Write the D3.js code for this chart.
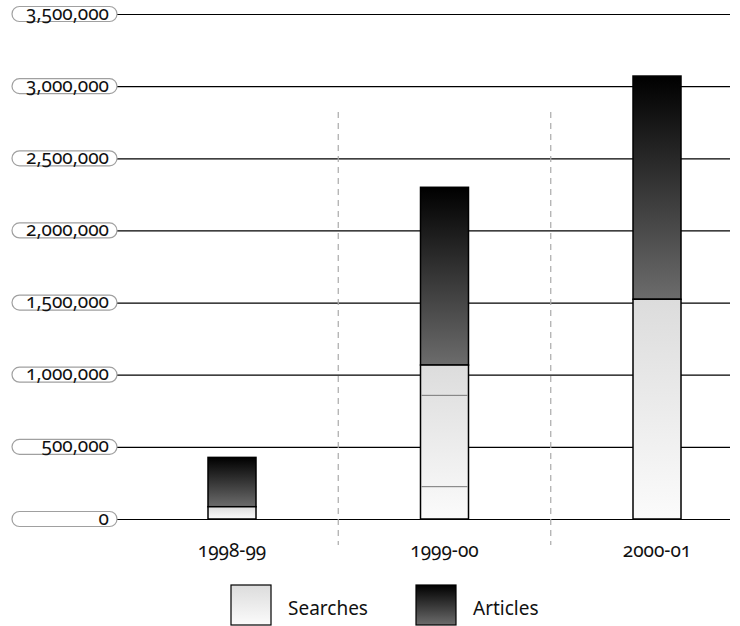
<!DOCTYPE html>
<html><head><meta charset="utf-8">
<script src="https://cdn.jsdelivr.net/npm/d3@7"></script>
<style>
body{margin:0;background:#fff;}
text{font-family:"Noto Sans",sans-serif;}
.num{font-variant-numeric:oldstyle-nums;font-feature-settings:"onum" 1;}
</style></head><body>
<svg id="c" width="740" height="626"></svg>
<script>
const categories = ["1998-99", "1999-00", "2000-01"];
const searches = [85000, 1067000, 1523000];
const articles = [342000, 1232000, 1547000];
const searchDividers = [[], [857000, 224000], []];
const yTicks = [0, 500000, 1000000, 1500000, 2000000, 2500000, 3000000, 3500000];
const seriesNames = ["Searches", "Articles"];

const svg = d3.select("#c");
const defs = svg.append("defs");
const gS = defs.append("linearGradient").attr("id","gS").attr("x1",0).attr("x2",0).attr("y1",0).attr("y2",1);
gS.append("stop").attr("offset","0%").attr("stop-color","#dcdcdc");
gS.append("stop").attr("offset","100%").attr("stop-color","#fbfbfb");
const gA = defs.append("linearGradient").attr("id","gA").attr("x1",0).attr("x2",0).attr("y1",0).attr("y2",1);
gA.append("stop").attr("offset","0%").attr("stop-color","#000");
gA.append("stop").attr("offset","100%").attr("stop-color","#6c6c6c");

const y = d3.scaleLinear().domain([0, 3500000]).range([519, 14]);
const x = d3.scalePoint().domain(categories).range([232, 657]);
const barW = 48;
const fmt = d3.format(",");

// gridlines
svg.append("g").selectAll("line").data(yTicks).join("line")
  .attr("x1",117).attr("x2",730)
  .attr("y1",d=>y(d)+0.5).attr("y2",d=>y(d)+0.5)
  .attr("stroke","#000").attr("stroke-width",1.2);

// tick pills
const tg = svg.append("g").selectAll("g").data(yTicks).join("g")
  .attr("transform",d=>`translate(0,${y(d)})`);
tg.append("rect").attr("x",12).attr("y",-7.5).attr("width",105).attr("height",15)
  .attr("rx",7.5).attr("fill","#fff").attr("stroke","#a0a0a0").attr("stroke-width",1.2);
tg.append("text").attr("class","num").attr("x",109).attr("y",5.5)
  .attr("text-anchor","end").attr("font-size",19).attr("fill","#111")
  .text(d=>fmt(d));

// dashed separators
const seps = categories.slice(1).map((c,i)=>(x(categories[i])+x(c))/2);
svg.append("g").selectAll("line").data(seps).join("line")
  .attr("x1",d=>d).attr("x2",d=>d).attr("y1",112).attr("y2",545)
  .attr("stroke","#aaa").attr("stroke-width",1.2).attr("stroke-dasharray","6,5");

// bars
const bars = svg.append("g").selectAll("g").data(categories).join("g");
bars.append("rect")
  .attr("x",d=>x(d)-barW/2).attr("width",barW)
  .attr("y",(d,i)=>y(searches[i]+articles[i]))
  .attr("height",(d,i)=>y(searches[i])-y(searches[i]+articles[i]))
  .attr("fill","url(#gA)").attr("stroke","#000").attr("stroke-width",1.5);
bars.append("rect")
  .attr("x",d=>x(d)-barW/2).attr("width",barW)
  .attr("y",(d,i)=>y(searches[i]))
  .attr("height",(d,i)=>y(0)-y(searches[i]))
  .attr("fill","url(#gS)").attr("stroke","#000").attr("stroke-width",1.5);
bars.each(function(d,i){
  d3.select(this).selectAll("line.div").data(searchDividers[i]).join("line")
    .attr("x1",x(d)-barW/2+1).attr("x2",x(d)+barW/2-1)
    .attr("y1",v=>y(v)).attr("y2",v=>y(v))
    .attr("stroke","#777").attr("stroke-width",1);
});

// x labels
svg.append("g").selectAll("text").data(categories).join("text")
  .attr("class","num").attr("x",d=>x(d)).attr("y",557)
  .attr("text-anchor","middle").attr("font-size",19).attr("fill","#111")
  .text(d=>d);

// legend
const lg = svg.append("g").selectAll("g").data(seriesNames).join("g")
  .attr("transform",(d,i)=>`translate(${231+i*185},585)`);
lg.append("rect").attr("width",40).attr("height",40)
  .attr("fill",(d,i)=>i?"url(#gA)":"url(#gS)").attr("stroke","#000").attr("stroke-width",1.2);
lg.append("text").attr("x",57).attr("y",30).attr("font-size",19).attr("fill","#111").text(d=>d);
</script>
</body></html>
